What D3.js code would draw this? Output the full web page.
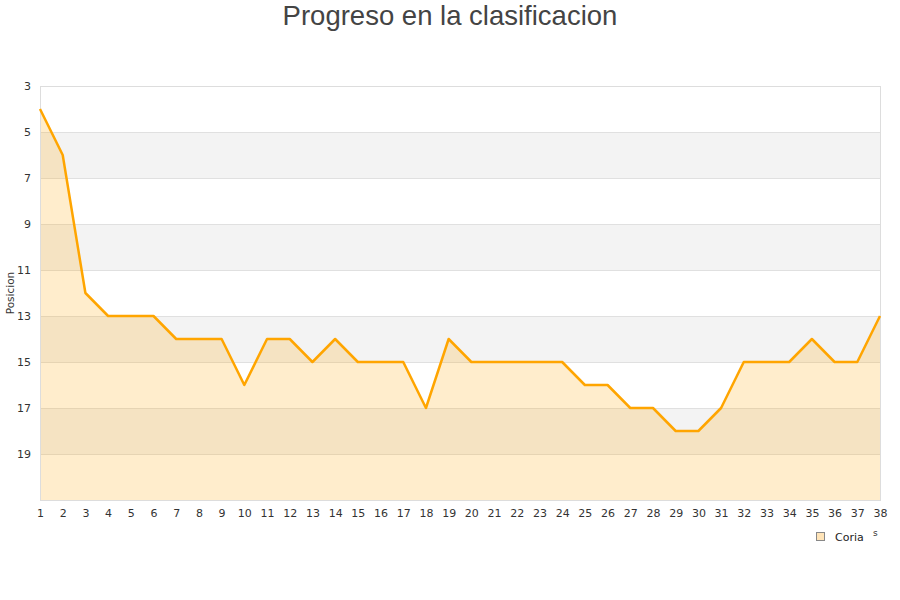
<!DOCTYPE html>
<html><head><meta charset="utf-8">
<script src="https://cdn.jsdelivr.net/npm/d3@7"></script>
<style>body{margin:0;background:#fff}</style>
</head><body>
<svg id="c" width="900" height="600"></svg>
<script>
const jornadas = d3.range(1, 39);
const posiciones = [4,6,12,13,13,13,14,14,14,16,14,14,15,14,15,15,15,17,14,15,15,15,15,15,16,16,17,17,18,18,17,15,15,15,14,15,15,13];
const yTicks = [3,5,7,9,11,13,15,17,19];
const bands = [[5,7],[9,11],[13,15],[17,19]];
const title = "Progreso en la clasificacion";
const serieName = "Coria";
const yLabel = "Posicion";

const svg = d3.select("#c");
const x = d3.scaleLinear().domain([1,38]).range([40,880]);
const y = d3.scaleLinear().domain([3,21]).range([86,500]);

svg.append("text").attr("x",450).attr("y",25).attr("text-anchor","middle")
  .attr("font-family","Liberation Sans, Arial, sans-serif").attr("font-size",27.5).attr("fill","#444").text(title);

// bands
svg.selectAll("rect.band").data(bands).join("rect")
  .attr("x",x(1)).attr("width",x(38)-x(1))
  .attr("y",d=>y(d[0])).attr("height",d=>y(d[1])-y(d[0]))
  .attr("fill","#f3f3f3");

// grid
svg.selectAll("line.grid").data(yTicks.concat([21])).join("line")
  .attr("x1",x(1)).attr("x2",x(38)).attr("y1",d=>y(d)+0.5).attr("y2",d=>y(d)+0.5)
  .attr("stroke","#e0e0e0").attr("stroke-width",1);

// area
const pts = jornadas.map((j,i)=>[j,posiciones[i]]);
svg.append("path").datum(pts)
  .attr("d", d3.area().x(d=>x(d[0])).y0(y(21)).y1(d=>y(d[1])))
  .attr("fill","orange").attr("fill-opacity",0.2);

// border
svg.append("rect").attr("x",x(1)+0.5).attr("y",y(3)+0.5).attr("width",x(38)-x(1)).attr("height",y(21)-y(3))
  .attr("fill","none").attr("stroke","#ddd");

// line
svg.append("path").datum(pts)
  .attr("d", d3.line().x(d=>x(d[0])).y(d=>y(d[1])))
  .attr("fill","none").attr("stroke","#ffa500").attr("stroke-width",2.5).attr("stroke-linejoin","round");

// y axis labels
const yAxis = d3.axisLeft(y).tickValues(yTicks).tickSize(0).tickPadding(0);
const ya = svg.append("g").attr("transform","translate(31,0)").call(yAxis);
ya.select(".domain").remove();
ya.selectAll("text").attr("font-family","DejaVu Sans, sans-serif").attr("font-size",11).attr("fill","#333");

// x axis labels
const xAxis = d3.axisBottom(x).tickValues(jornadas).tickFormat(d3.format("d")).tickSize(0).tickPadding(0);
const xa = svg.append("g").attr("transform","translate(0,509)").call(xAxis);
xa.select(".domain").remove();
xa.selectAll("text").attr("font-family","DejaVu Sans, sans-serif").attr("font-size",11).attr("fill","#333");

// y label
svg.append("text").attr("transform","translate(14,293) rotate(-90)").attr("text-anchor","middle")
  .attr("font-family","DejaVu Sans, sans-serif").attr("font-size",10.5).attr("fill","#333").text(yLabel);

// legend
svg.append("rect").attr("x",816.5).attr("y",532.5).attr("width",8).attr("height",8)
  .attr("fill","#ffe4b8").attr("stroke","#888").attr("stroke-width",1);
svg.append("text").attr("x",835).attr("y",541).attr("font-family","DejaVu Sans, sans-serif")
  .attr("font-size",11).attr("fill","#222").text(serieName);
svg.append("text").attr("x",873).attr("y",536).attr("font-family","DejaVu Sans, sans-serif")
  .attr("font-size",9).attr("fill","#333").text("s");
</script>
</body></html>
